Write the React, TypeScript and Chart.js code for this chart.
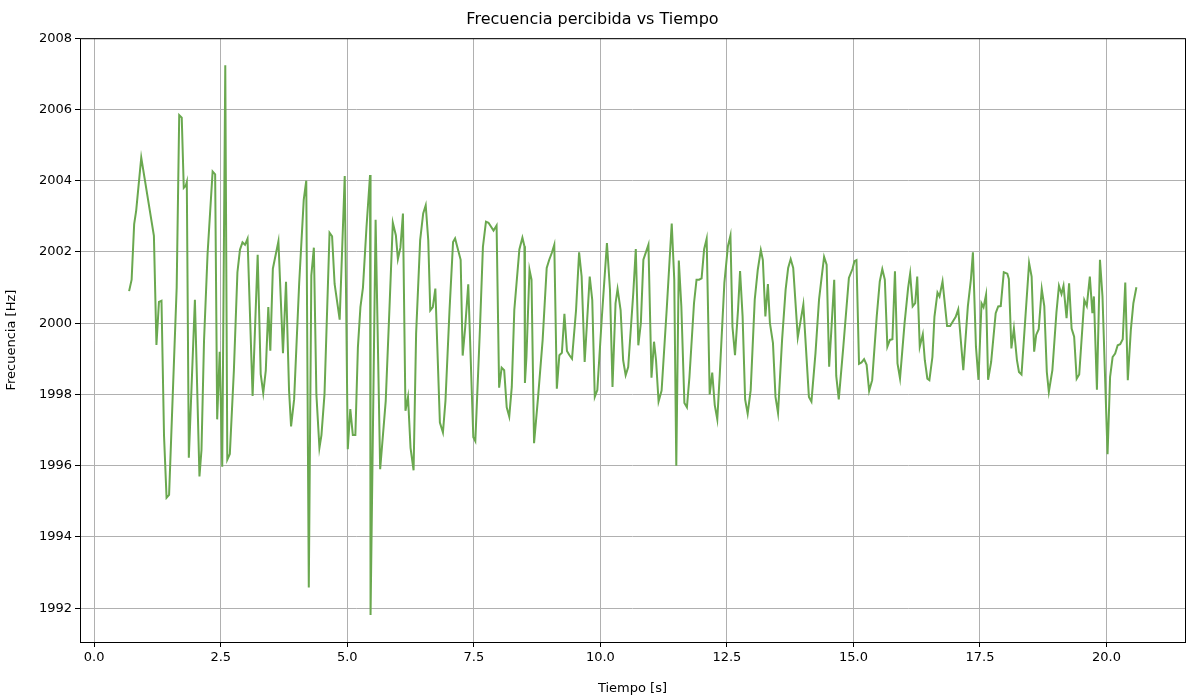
import React, { useEffect, useRef } from 'react';
import { Chart, registerables } from 'chart.js';

Chart.register(...registerables);

const times = [
  0.69, 0.74, 0.79, 0.83, 0.93, 1.18, 1.23, 1.28, 1.33, 1.38, 1.43, 1.48, 1.63, 1.68, 1.73, 1.77, 1.81, 1.83, 1.87, 1.99,
  2.08, 2.12, 2.17, 2.24, 2.34, 2.39, 2.43, 2.48, 2.53, 2.59, 2.63, 2.68, 2.76, 2.83, 2.88, 2.93, 2.98, 3.03, 3.13, 3.23,
  3.29, 3.34, 3.39, 3.44, 3.48, 3.53, 3.64, 3.73, 3.79, 3.85, 3.89, 3.95, 4.05, 4.14, 4.19, 4.24, 4.29, 4.34, 4.39, 4.45,
  4.49, 4.55, 4.65, 4.70, 4.75, 4.85, 4.95, 5.01, 5.06, 5.11, 5.16, 5.21, 5.26, 5.31, 5.38, 5.45, 5.46, 5.56, 5.65, 5.76,
  5.84, 5.90, 5.96, 6.00, 6.05, 6.10, 6.15, 6.20, 6.25, 6.31, 6.36, 6.44, 6.50, 6.55, 6.60, 6.64, 6.69, 6.74, 6.83, 6.89,
  6.94, 7.02, 7.09, 7.13, 7.24, 7.28, 7.33, 7.39, 7.49, 7.53, 7.62, 7.68, 7.74, 7.79, 7.89, 7.95,
  8.00, 8.05, 8.10, 8.15, 8.20, 8.25, 8.30, 8.40, 8.46, 8.50, 8.51, 8.54, 8.60, 8.64, 8.69, 8.77, 8.86, 8.94, 8.99, 9.04,
  9.09, 9.14, 9.19, 9.24, 9.29, 9.34, 9.39, 9.44, 9.52, 9.58, 9.63, 9.69, 9.79, 9.84, 9.89, 9.94, 10.03, 10.13, 10.19, 10.24,
  10.30, 10.34, 10.40, 10.45, 10.50, 10.55, 10.65, 10.70, 10.75, 10.80, 10.85, 10.95, 11.01, 11.06, 11.10, 11.15, 11.21, 11.31, 11.41, 11.46,
  11.50, 11.55, 11.60, 11.66, 11.71, 11.76, 11.85, 11.90, 11.95, 12.00, 12.05, 12.10,
  12.16, 12.21, 12.26, 12.31, 12.36, 12.45, 12.52, 12.57, 12.61, 12.66, 12.72, 12.76, 12.81, 12.86, 12.91, 12.97, 13.05, 13.11, 13.17, 13.21,
  13.26, 13.31, 13.35, 13.41, 13.46, 13.51, 13.59, 13.66, 13.71, 13.76, 13.81, 13.90, 13.96, 14.01, 14.12, 14.17, 14.25, 14.32, 14.37, 14.42,
  14.47, 14.52, 14.56, 14.62, 14.66, 14.71, 14.80, 14.91, 14.98, 15.02, 15.06, 15.11, 15.16, 15.21, 15.26, 15.31, 15.37, 15.46, 15.52, 15.57,
  15.62, 15.67, 15.72, 15.77, 15.82, 15.87, 15.92, 16.01, 16.08, 16.12, 16.17, 16.22, 16.26, 16.31,
  16.37, 16.41, 16.46, 16.50, 16.56, 16.60, 16.66, 16.70, 16.76, 16.85, 16.91, 17.02, 17.07, 17.17, 17.26, 17.32, 17.36, 17.42, 17.47, 17.53,
  17.57, 17.62, 17.66, 17.72, 17.81, 17.86, 17.91, 17.97, 18.04, 18.07, 18.12, 18.17, 18.23, 18.27, 18.32, 18.40, 18.47, 18.52, 18.57, 18.61,
  18.66, 18.72, 18.77, 18.82, 18.86, 18.93, 19.01, 19.06, 19.11, 19.15, 19.21, 19.26, 19.31, 19.36, 19.41, 19.46, 19.56, 19.61, 19.67, 19.72,
  19.75, 19.81, 19.87, 19.92, 20.02, 20.07, 20.12, 20.17, 20.22, 20.27, 20.32, 20.37, 20.42, 20.48, 20.53, 20.59,
];

const freqs = [
  2000.9, 2001.22, 2002.78, 2003.16, 2004.65, 2002.45, 1999.39, 2000.6, 2000.63, 1996.84, 1995.1, 1995.18, 2001.0, 2005.84, 2005.77, 2003.8, 2003.86, 2003.96, 1996.22, 2000.66,
  1995.7, 1996.44, 1999.5, 2001.94, 2004.26, 2004.18, 1997.3, 1999.2, 1995.97, 2007.24, 1996.17, 1996.33, 1998.67, 2001.43, 2002.06, 2002.27, 2002.2, 2002.37, 1997.96, 2001.92,
  1998.57, 1998.04, 1998.67, 2000.45, 1999.23, 2001.53, 2002.3, 1999.16, 2001.16, 1998.11, 1997.1, 1997.86, 2001.12, 2003.46, 2004.0, 1992.58, 2001.34, 2002.12, 1998.0, 1996.5,
  1996.86, 1998.0, 2002.54, 2002.44, 2001.1, 2000.1, 2004.13, 1996.46, 1997.59, 1996.86, 1996.86, 1999.32, 2000.45, 2001.0, 2002.7, 2004.16, 1991.81, 2002.9, 1995.9, 1997.82,
  2000.64, 2002.82, 2002.47, 2001.8, 2002.12, 2003.08, 1997.54, 1997.93, 1996.5, 1995.87, 1999.7, 2002.33, 2003.08, 2003.31, 2002.33, 2000.36, 2000.45, 2000.97, 1997.21, 1996.93,
  1997.82, 2000.36, 2002.28, 2002.38, 2001.78, 1999.09, 1999.89, 2001.09, 1996.8, 1996.69, 1999.8, 2002.14, 2002.85, 2002.82, 2002.6, 2002.74,
  1998.19, 1998.75, 1998.68, 1997.64, 1997.38, 1998.21, 2000.37, 2002.07, 2002.4, 2002.16, 1998.32, 1999.06, 2001.5, 2001.22, 1996.63, 1997.93, 1999.53, 2001.55, 2001.78, 2001.97,
  2002.2, 1998.16, 1999.1, 1999.17, 2000.26, 1999.22, 1999.1, 1999.0, 2000.37, 2001.99, 2001.31, 1998.91, 2001.31, 2000.65, 1997.93, 1998.12, 2000.18, 2002.25, 2000.94, 1998.21,
  2000.56, 2000.96, 2000.37, 1998.96, 1998.54, 1998.77, 2000.84, 2002.08, 1999.38, 2000.0, 2001.78, 2002.2, 1998.47, 1999.48, 1998.96, 1997.8, 1998.11, 2000.37, 2002.8, 2001.22,
  1996.0, 2001.76, 2000.47, 1997.76, 1997.64, 1998.49, 2000.56, 2001.22, 2001.22, 2001.26, 2002.08, 2002.37,
  1998.0, 1998.61, 1997.7, 1997.3, 1998.59, 2001.13, 2002.16, 2002.46, 1999.9, 1999.1, 2000.38, 2001.46, 2000.19, 1997.86, 1997.46, 1998.12, 2000.66, 2001.5, 2002.05, 2001.78,
  2000.19, 2001.1, 2000.0, 1999.44, 1997.93, 1997.48, 1999.53, 2000.94, 2001.55, 2001.8, 2001.55, 1999.6, 2000.1, 2000.52, 1997.93, 1997.8, 1999.16, 2000.66, 2001.27, 2001.86,
  2001.64, 1998.78, 1999.72, 2001.22, 1998.52, 1997.86, 1999.34, 2001.27, 2001.52, 2001.74, 2001.77, 1998.86, 1998.9, 1998.99, 1998.83, 1998.1, 1998.4, 2000.19, 2001.17, 2001.52,
  2001.22, 1999.34, 1999.53, 1999.55, 2001.46, 1998.87, 1998.45, 2000.0, 2000.99, 2001.39, 2000.47, 2000.56, 2001.31, 1999.34,
  1999.69, 1998.96, 1998.44, 1998.4, 1999.05, 2000.18, 2000.86, 2000.75, 2001.17, 1999.92, 1999.92, 2000.18, 2000.39, 1998.68, 2000.47, 2001.22, 2001.99, 1999.34, 1998.41, 2000.56,
  2000.45, 2000.8, 1998.41, 1998.91, 2000.28, 2000.47, 2000.48, 2001.43, 2001.39, 2001.24, 1999.29, 1999.85, 1998.96, 1998.63, 1998.56, 2000.23, 2001.69, 2001.31, 1999.2, 1999.67,
  1999.83, 2000.96, 2000.48, 1998.63, 1998.07, 1998.68, 2000.3, 2001.05, 2000.82, 2001.05, 2000.14, 2001.12, 1999.85, 1999.62, 1998.44, 1998.56, 2000.65, 2000.48, 2001.31, 2000.28,
  2000.75, 1998.13, 2001.78, 2000.75, 1996.32, 1998.49, 1999.05, 1999.15, 1999.38, 1999.41, 1999.55, 2001.14, 1998.4, 1999.81, 2000.56, 2001.01,
];

const xTicks = [0, 2.5, 5, 7.5, 10, 12.5, 15, 17.5, 20];
const yTicks = [1992, 1994, 1996, 1998, 2000, 2002, 2004, 2006, 2008];

const frame = {
  id: 'frame',
  afterDraw(chart: any) {
    const { ctx, chartArea: a } = chart;
    ctx.save();
    ctx.strokeStyle = '#000';
    ctx.lineWidth = 1;
    ctx.strokeRect(a.left + 0.5, a.top + 0.5, a.right - a.left, a.bottom - a.top);
    ctx.restore();
  },
};

const App: React.FC = () => {
  const chartRef = useRef<HTMLCanvasElement>(null);
  const chartInstanceRef = useRef<Chart | null>(null);

  useEffect(() => {
    document.body.style.margin = '0';
    if (!chartRef.current) return;
    const ctx = chartRef.current.getContext('2d');
    if (!ctx) return;
    const font = { family: 'DejaVu Sans', size: 13 };

    chartInstanceRef.current = new Chart(ctx, {
      type: 'line',
      data: {
        datasets: [{
          data: times.map((t, i) => ({ x: t, y: freqs[i] })),
          borderColor: '#6aa84f',
          borderWidth: 2,
          pointRadius: 0,
          tension: 0,
        }],
      },
      options: {
        animation: false,
        responsive: false,
        layout: { padding: { right: 15 } },
        scales: {
          x: {
            type: 'linear',
            min: -0.28,
            max: 21.55,
            afterBuildTicks: (s: any) => { s.ticks = xTicks.map(v => ({ value: v })); },
            afterFit: (s: any) => { s.height = 58; },
            ticks: { color: '#000', font, callback: (v: any) => Number(v).toFixed(1), maxRotation: 0 },
            grid: { color: '#b0b0b0', tickColor: '#000', tickLength: 5 },
            border: { display: false },
            title: { display: true, text: 'Tiempo [s]', color: '#000', font, padding: { top: 2 } },
          },
          y: {
            min: 1991.05,
            max: 2008,
            afterBuildTicks: (s: any) => { s.ticks = yTicks.map(v => ({ value: v })); },
            afterFit: (s: any) => { s.width = 80; },
            ticks: { color: '#000', font, callback: (v: any) => String(v) },
            grid: { color: '#b0b0b0', tickColor: '#000', tickLength: 5 },
            border: { display: false },
            title: { display: true, text: 'Frecuencia [Hz]', color: '#000', font },
          },
        },
        plugins: {
          legend: { display: false },
          tooltip: { enabled: false },
          title: {
            display: true,
            text: 'Frecuencia percibida vs Tiempo',
            color: '#000',
            font: { family: 'DejaVu Sans', size: 16, weight: 'normal' },
            padding: { top: 10, bottom: 9 },
          },
        },
      },
      plugins: [frame],
    });

    return () => {
      if (chartInstanceRef.current) {
        chartInstanceRef.current.destroy();
      }
    };
  }, []);

  return <canvas ref={chartRef} width={1200} height={700}></canvas>;
};

export default App;
